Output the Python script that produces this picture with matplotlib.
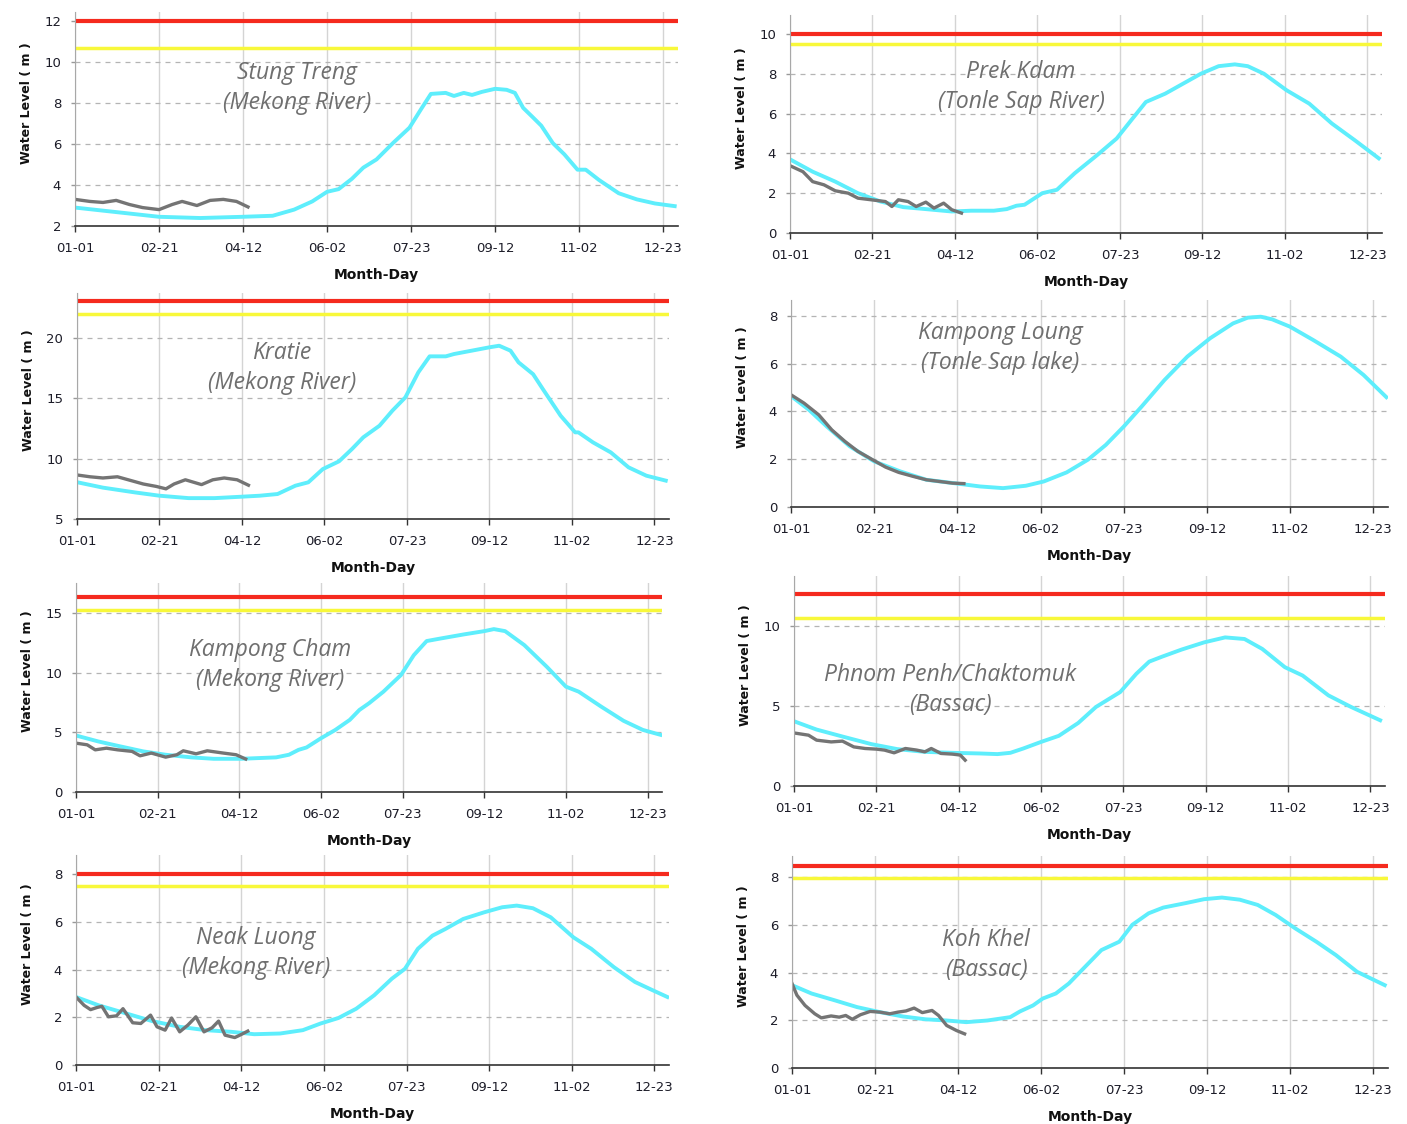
import matplotlib
matplotlib.use('Agg')
import matplotlib.pyplot as plt

# tick positions = day of year (01-01 .. 12-23, every 51 days)
tick_days = [0, 51, 102, 153, 204, 255, 306, 357]
tick_labels = ['01-01', '02-21', '04-12', '06-02', '07-23', '09-12', '11-02', '12-23']

# Stung Treng (Mekong River)
stung_avg_day = [0, 51, 76, 102, 120, 133, 144, 153, 160, 168, 175, 183, 193, 203, 210, 216, 225, 230, 236, 241, 247, 255, 262, 267, 272, 278, 283, 290, 297, 305, 310, 318, 330, 341, 352, 364]
stung_avg = [2.9, 2.45, 2.39, 2.45, 2.5, 2.8, 3.2, 3.67, 3.8, 4.3, 4.85, 5.25, 6.05, 6.8, 7.7, 8.45, 8.5, 8.35, 8.5, 8.4, 8.55, 8.7, 8.65, 8.5, 7.77, 7.3, 6.9, 6.05, 5.5, 4.75, 4.75, 4.25, 3.6, 3.3, 3.1, 2.97]
stung_cur_day = [0, 9, 17, 25, 33, 41, 51, 59, 65, 74, 82, 90, 98, 105]
stung_cur = [3.3, 3.2, 3.15, 3.25, 3.05, 2.9, 2.8, 3.05, 3.2, 3.0, 3.25, 3.3, 3.2, 2.93]

# Prek Kdam (Tonle Sap River)
prek_avg_day = [0, 14, 28, 42, 56, 70, 84, 100, 112, 126, 134, 140, 145, 156, 165, 176, 190, 202, 211, 220, 232, 243, 254, 265, 275, 283, 293, 307, 321, 335, 349, 364]
prek_avg = [3.7, 3.08, 2.58, 2.0, 1.58, 1.3, 1.2, 1.08, 1.12, 1.12, 1.2, 1.37, 1.42, 2.0, 2.17, 3.0, 3.92, 4.75, 5.67, 6.58, 7.0, 7.5, 8.0, 8.38, 8.47, 8.38, 8.0, 7.17, 6.5, 5.5, 4.67, 3.75]
prek_cur_day = [0, 8, 14, 21, 28, 36, 42, 50, 59, 63, 67, 73, 78, 84, 89, 95, 100, 106]
prek_cur = [3.38, 3.08, 2.58, 2.42, 2.12, 2.0, 1.75, 1.67, 1.58, 1.33, 1.67, 1.58, 1.33, 1.55, 1.25, 1.5, 1.17, 1.0]

# Kratie (Mekong River)
kratie_avg_day = [0, 16, 36, 51, 69, 85, 102, 113, 124, 135, 143, 152, 162, 170, 177, 187, 195, 203, 211, 218, 228, 233, 244, 255, 261, 268, 273, 282, 288, 299, 308, 310, 319, 330, 341, 352, 364]
kratie_avg = [8.05, 7.6, 7.2, 6.93, 6.73, 6.73, 6.85, 6.93, 7.07, 7.76, 8.04, 9.14, 9.78, 10.8, 11.77, 12.73, 13.98, 15.08, 17.15, 18.48, 18.48, 18.67, 18.95, 19.23, 19.36, 18.95, 17.98, 17.0, 15.77, 13.56, 12.18, 12.18, 11.35, 10.52, 9.28, 8.59, 8.18]
kratie_cur_day = [0, 8, 16, 25, 33, 41, 49, 55, 60, 67, 77, 84, 91, 99, 106]
kratie_cur = [8.65, 8.5, 8.4, 8.5, 8.2, 7.9, 7.7, 7.5, 7.9, 8.25, 7.85, 8.25, 8.4, 8.25, 7.8]

# Kampong Loung (Tonle Sap lake)
loung_avg_day = [0, 11, 22, 36, 51, 67, 83, 102, 116, 130, 144, 155, 169, 182, 193, 204, 215, 229, 243, 257, 271, 280, 288, 295, 306, 320, 337, 351, 365]
loung_avg = [4.65, 4.07, 3.37, 2.54, 1.91, 1.49, 1.14, 0.98, 0.86, 0.79, 0.89, 1.07, 1.45, 1.98, 2.6, 3.37, 4.21, 5.32, 6.3, 7.07, 7.69, 7.93, 7.97, 7.86, 7.55, 7.0, 6.3, 5.53, 4.6]
loung_cur_day = [0, 8, 17, 25, 33, 41, 50, 58, 66, 75, 83, 91, 99, 106]
loung_cur = [4.7, 4.35, 3.86, 3.23, 2.75, 2.33, 1.98, 1.67, 1.45, 1.28, 1.14, 1.07, 1.0, 0.98]

# Kampong Cham (Mekong River)
cham_avg_day = [0, 14, 28, 42, 56, 72, 86, 103, 114, 125, 133, 139, 144, 153, 162, 171, 177, 183, 192, 203, 211, 219, 228, 242, 255, 261, 268, 280, 294, 306, 314, 328, 342, 354, 365]
cham_avg = [4.73, 4.23, 3.81, 3.4, 3.12, 2.9, 2.78, 2.78, 2.84, 2.9, 3.12, 3.53, 3.73, 4.5, 5.2, 6.04, 6.87, 7.43, 8.4, 9.8, 11.46, 12.64, 12.86, 13.19, 13.47, 13.64, 13.47, 12.3, 10.49, 8.82, 8.4, 7.15, 5.96, 5.2, 4.79]
cham_cur_day = [0, 7, 12, 19, 26, 35, 40, 47, 56, 63, 67, 75, 82, 92, 100, 106]
cham_cur = [4.09, 3.95, 3.53, 3.67, 3.53, 3.4, 3.03, 3.26, 2.92, 3.12, 3.45, 3.2, 3.45, 3.26, 3.12, 2.76]

# Phnom Penh/Chaktomuk (Bassac)
penh_avg_day = [0, 14, 31, 48, 64, 81, 98, 115, 126, 134, 142, 153, 164, 176, 187, 202, 212, 220, 228, 240, 254, 267, 279, 290, 304, 315, 331, 345, 363]
penh_avg = [4.04, 3.52, 3.06, 2.61, 2.3, 2.13, 2.07, 2.03, 1.99, 2.07, 2.34, 2.75, 3.13, 3.93, 4.93, 5.86, 7.0, 7.76, 8.07, 8.51, 8.96, 9.27, 9.17, 8.55, 7.41, 6.89, 5.65, 4.93, 4.1]
penh_cur_day = [0, 9, 14, 23, 30, 37, 44, 51, 56, 62, 69, 76, 81, 85, 91, 98, 103, 106]
penh_cur = [3.31, 3.17, 2.86, 2.75, 2.8, 2.44, 2.34, 2.3, 2.24, 2.07, 2.34, 2.24, 2.13, 2.34, 2.03, 1.99, 1.93, 1.61]

# Neak Luong (Mekong River)
neak_avg_day = [0, 14, 31, 47, 64, 80, 96, 110, 126, 140, 151, 162, 173, 184, 195, 203, 211, 220, 228, 239, 252, 263, 272, 282, 293, 307, 318, 332, 345, 356, 365]
neak_avg = [2.85, 2.5, 2.16, 1.84, 1.6, 1.46, 1.39, 1.29, 1.32, 1.46, 1.74, 1.97, 2.36, 2.92, 3.62, 4.03, 4.87, 5.42, 5.7, 6.12, 6.4, 6.61, 6.68, 6.57, 6.19, 5.35, 4.87, 4.1, 3.48, 3.13, 2.85]
neak_cur_day = [0, 5, 9, 13, 16, 20, 25, 29, 35, 40, 46, 50, 55, 59, 64, 69, 74, 79, 84, 88, 92, 98, 102, 106]
neak_cur = [2.85, 2.5, 2.32, 2.41, 2.46, 2.02, 2.06, 2.36, 1.77, 1.74, 2.09, 1.6, 1.46, 1.97, 1.39, 1.67, 2.02, 1.39, 1.56, 1.84, 1.25, 1.15, 1.28, 1.42]

# Koh Khel (Bassac)
khel_avg_day = [0, 12, 26, 40, 54, 68, 82, 95, 107, 120, 134, 140, 148, 154, 162, 170, 179, 190, 201, 209, 219, 228, 242, 253, 264, 275, 286, 297, 309, 322, 334, 347, 364]
khel_avg = [3.47, 3.12, 2.84, 2.55, 2.34, 2.16, 2.04, 1.99, 1.92, 1.99, 2.13, 2.37, 2.62, 2.91, 3.12, 3.54, 4.17, 4.94, 5.29, 6.0, 6.48, 6.72, 6.91, 7.07, 7.14, 7.05, 6.83, 6.41, 5.85, 5.29, 4.73, 4.03, 3.47]
khel_cur_day = [0, 3, 8, 14, 18, 24, 29, 33, 37, 42, 48, 54, 60, 65, 70, 75, 80, 86, 90, 95, 101, 106]
khel_cur = [3.54, 3.05, 2.62, 2.27, 2.1, 2.18, 2.13, 2.2, 2.04, 2.23, 2.37, 2.34, 2.27, 2.34, 2.39, 2.51, 2.32, 2.41, 2.2, 1.78, 1.57, 1.43]

# flood (red) and alarm (yellow) levels, None = not shown
flood_levels = [12.0, 10.0, 23.1, None, 16.3, 12.0, 8.0, 8.45]
alarm_levels = [10.7, 9.5, 22.0, None, 15.2, 10.5, 7.5, 7.95]

titles = ['Stung Treng\n(Mekong River)', 'Prek Kdam\n(Tonle Sap River)', 'Kratie\n(Mekong River)',
          'Kampong Loung\n(Tonle Sap lake)', 'Kampong Cham\n(Mekong River)',
          'Phnom Penh/Chaktomuk\n(Bassac)', 'Neak Luong\n(Mekong River)', 'Koh Khel\n(Bassac)']

# layout in pixels: left, top, right, bottom of each axes, plus y-range and y ticks
W, H = 1407, 1124
panels = [
    dict(rect=(75, 12, 678, 226), ylim=(2, 12.45), yticks=[2, 4, 6, 8, 10, 12], title_xy=(297, 88),
         avg=(stung_avg_day, stung_avg), cur=(stung_cur_day, stung_cur)),
    dict(rect=(790, 15, 1382, 233), ylim=(0, 10.95), yticks=[0, 2, 4, 6, 8, 10], title_xy=(1021, 87),
         avg=(prek_avg_day, prek_avg), cur=(prek_cur_day, prek_cur)),
    dict(rect=(77, 293, 669, 519), ylim=(5, 23.73), yticks=[5, 10, 15, 20], title_xy=(282, 368),
         avg=(kratie_avg_day, kratie_avg), cur=(kratie_cur_day, kratie_cur)),
    dict(rect=(791, 300, 1388, 507), ylim=(0, 8.67), yticks=[0, 2, 4, 6, 8], title_xy=(1000, 348),
         avg=(loung_avg_day, loung_avg), cur=(loung_cur_day, loung_cur)),
    dict(rect=(76, 583, 662, 792), ylim=(0, 17.5), yticks=[0, 5, 10, 15], title_xy=(270, 665),
         avg=(cham_avg_day, cham_avg), cur=(cham_cur_day, cham_cur)),
    dict(rect=(794, 576, 1385, 786), ylim=(0, 13.1), yticks=[0, 5, 10], title_xy=(950, 690),
         avg=(penh_avg_day, penh_avg), cur=(penh_cur_day, penh_cur)),
    dict(rect=(76, 855, 669, 1065), ylim=(0, 8.8), yticks=[0, 2, 4, 6, 8], title_xy=(256, 953),
         avg=(neak_avg_day, neak_avg), cur=(neak_cur_day, neak_cur)),
    dict(rect=(792, 856, 1388, 1068), ylim=(0, 8.88), yticks=[0, 2, 4, 6, 8], title_xy=(986, 955),
         avg=(khel_avg_day, khel_avg), cur=(khel_cur_day, khel_cur)),
]

fig = plt.figure(figsize=(W/100, H/100), dpi=100)
fig.patch.set_facecolor('white')

for i, p in enumerate(panels):
    l, t, r, b = p['rect']
    ax = fig.add_axes([l/W, 1-b/H, (r-l)/W, (b-t)/H])
    ax.set_xlim(0, 366)
    ax.set_ylim(p['ylim'])
    ax.set_xticks(tick_days)
    ax.set_xticklabels(tick_labels)
    ax.set_yticks(p['yticks'])
    ax.xaxis.grid(True, color='#d4d4d4', lw=1, ls='-')
    ax.yaxis.grid(True, color='#b4b4b4', lw=0.9, ls=(0, (4, 4)))
    ax.set_axisbelow(True)
    for s in ['top', 'right']:
        ax.spines[s].set_visible(False)
    ax.spines['left'].set_color('#a8a8a8')
    ax.spines['bottom'].set_color('#333333')
    ax.spines['bottom'].set_linewidth(1.2)
    ax.tick_params(axis='x', length=4.3, width=1, color='#333333', pad=7.5, labelsize=9.5, labelcolor='#1c1c28')
    ax.tick_params(axis='y', length=3, width=1, color='#999999', pad=7, labelsize=9.5, labelcolor='#1c1c28')

    if flood_levels[i] is not None:
        ax.axhline(flood_levels[i], color='#f52a1e', lw=3, solid_capstyle='butt')
        ax.axhline(alarm_levels[i], color='#f8f83a', lw=2.5, solid_capstyle='butt')
    ax.plot(p['avg'][0], p['avg'][1], color='#5eeefc', lw=2.8, solid_joinstyle='round')
    ax.plot(p['cur'][0], p['cur'][1], color='#747474', lw=2.4, solid_joinstyle='round')

    # station name
    tx, ty = p['title_xy']
    ax.text((tx-l)/(r-l), (b-ty)/(b-t), titles[i], transform=ax.transAxes, ha='center', va='center',
            fontsize=16.5, family='Open Sans', style='italic', color='#6f6f6f', linespacing=1.3)

    ax.set_ylabel('Water Level ( m )', fontsize=9, fontweight='bold', color='#111111')
    ax.yaxis.set_label_coords(-42/(r-l), 0.5 + 16/(b-t))
    ax.set_xlabel('Month-Day', fontsize=10, fontweight='bold', color='#111111')
    ax.xaxis.set_label_coords(0.5, -42/(b-t))

plt.savefig('out.png', dpi=100, facecolor='white')
